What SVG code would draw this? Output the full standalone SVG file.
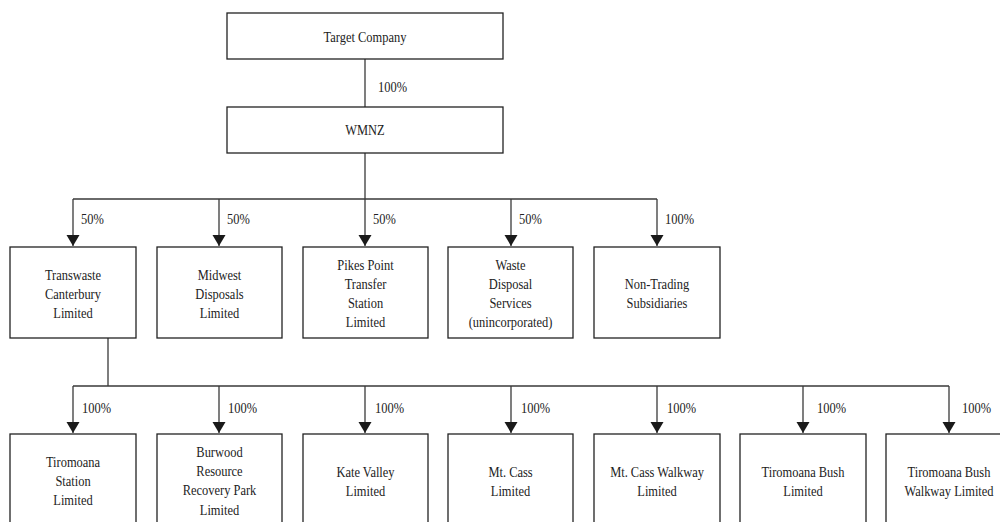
<svg xmlns="http://www.w3.org/2000/svg" width="1000" height="522" viewBox="0 0 1000 522">
<defs>
<marker id="arr" markerUnits="userSpaceOnUse" markerWidth="12" markerHeight="14" viewBox="0 0 12 14" refX="11" refY="7" orient="auto">
<path d="M0,0.5 L11,7 L0,13.5 Z" fill="#1a1a1a"/>
</marker>
</defs>
<style>
rect{fill:#fff;stroke:#222;stroke-width:1.3}
text{font-family:'Liberation Serif','Times New Roman',Times,serif;font-size:15px;fill:#222}
.c{text-anchor:middle}
.ln{fill:none;stroke:#3a3a3a;stroke-width:1.3}
</style>
<rect width="1000" height="522" style="fill:#fff;stroke:none"/>
<g id="connectors">
<path class="ln" d="M365,59 V107"/>
<path class="ln" d="M365,153 V199 M73,199 H657"/>
<path class="ln" d="M73,199 V246" marker-end="url(#arr)"/>
<path class="ln" d="M219,199 V246" marker-end="url(#arr)"/>
<path class="ln" d="M365,199 V246" marker-end="url(#arr)"/>
<path class="ln" d="M511,199 V246" marker-end="url(#arr)"/>
<path class="ln" d="M657,199 V246" marker-end="url(#arr)"/>
<path class="ln" d="M108,338 V386 M73,386 H949"/>
<path class="ln" d="M73,386 V433" marker-end="url(#arr)"/>
<path class="ln" d="M219,386 V433" marker-end="url(#arr)"/>
<path class="ln" d="M365,386 V433" marker-end="url(#arr)"/>
<path class="ln" d="M511,386 V433" marker-end="url(#arr)"/>
<path class="ln" d="M657,386 V433" marker-end="url(#arr)"/>
<path class="ln" d="M803,386 V433" marker-end="url(#arr)"/>
<path class="ln" d="M949,386 V433" marker-end="url(#arr)"/>
<text transform="translate(378,92) scale(0.83,1)">100%</text>
<text transform="translate(81,224) scale(0.83,1)">50%</text>
<text transform="translate(227,224) scale(0.83,1)">50%</text>
<text transform="translate(373,224) scale(0.83,1)">50%</text>
<text transform="translate(519,224) scale(0.83,1)">50%</text>
<text transform="translate(665,224) scale(0.83,1)">100%</text>
<text transform="translate(82,413) scale(0.83,1)">100%</text>
<text transform="translate(228,413) scale(0.83,1)">100%</text>
<text transform="translate(375,413) scale(0.83,1)">100%</text>
<text transform="translate(521,413) scale(0.83,1)">100%</text>
<text transform="translate(667,413) scale(0.83,1)">100%</text>
<text transform="translate(817,413) scale(0.83,1)">100%</text>
<text transform="translate(962,413) scale(0.83,1)">100%</text>
</g>
<g id="target"><rect x="227" y="13" width="276" height="46"/><text class="c" transform="translate(365,42) scale(0.83,1)">Target Company</text></g>
<g id="wmnz"><rect x="227" y="107" width="276" height="46"/><text class="c" transform="translate(365,135) scale(0.83,1)">WMNZ</text></g>
<g id="transwaste"><rect x="10" y="247" width="126" height="91"/><text class="c" transform="translate(73,280) scale(0.83,1)">Transwaste</text><text class="c" transform="translate(73,299) scale(0.83,1)">Canterbury</text><text class="c" transform="translate(73,318) scale(0.83,1)">Limited</text></g>
<g id="midwest"><rect x="157" y="247" width="125" height="91"/><text class="c" transform="translate(219.5,280) scale(0.83,1)">Midwest</text><text class="c" transform="translate(219.5,299) scale(0.83,1)">Disposals</text><text class="c" transform="translate(219.5,318) scale(0.83,1)">Limited</text></g>
<g id="pikes"><rect x="303" y="247" width="125" height="91"/><text class="c" transform="translate(365.5,270) scale(0.83,1)">Pikes Point</text><text class="c" transform="translate(365.5,289) scale(0.83,1)">Transfer</text><text class="c" transform="translate(365.5,308) scale(0.83,1)">Station</text><text class="c" transform="translate(365.5,327) scale(0.83,1)">Limited</text></g>
<g id="wds"><rect x="448" y="247" width="125" height="91"/><text class="c" transform="translate(510.5,270) scale(0.83,1)">Waste</text><text class="c" transform="translate(510.5,289) scale(0.83,1)">Disposal</text><text class="c" transform="translate(510.5,308) scale(0.83,1)">Services</text><text class="c" transform="translate(510.5,327) scale(0.83,1)">(unincorporated)</text></g>
<g id="nontrading"><rect x="594" y="247" width="126" height="91"/><text class="c" transform="translate(657,289) scale(0.83,1)">Non-Trading</text><text class="c" transform="translate(657,308) scale(0.83,1)">Subsidiaries</text></g>
<g id="tiromoana-station"><rect x="10" y="434" width="126" height="100"/><text class="c" transform="translate(73,467) scale(0.83,1)">Tiromoana</text><text class="c" transform="translate(73,486) scale(0.83,1)">Station</text><text class="c" transform="translate(73,505) scale(0.83,1)">Limited</text></g>
<g id="burwood"><rect x="157" y="434" width="125" height="100"/><text class="c" transform="translate(219.5,457) scale(0.83,1)">Burwood</text><text class="c" transform="translate(219.5,476) scale(0.83,1)">Resource</text><text class="c" transform="translate(219.5,495) scale(0.83,1)">Recovery Park</text><text class="c" transform="translate(219.5,515) scale(0.83,1)">Limited</text></g>
<g id="katevalley"><rect x="303" y="434" width="125" height="100"/><text class="c" transform="translate(365.5,477) scale(0.83,1)">Kate Valley</text><text class="c" transform="translate(365.5,496) scale(0.83,1)">Limited</text></g>
<g id="mtcass"><rect x="448" y="434" width="125" height="100"/><text class="c" transform="translate(510.5,477) scale(0.83,1)">Mt. Cass</text><text class="c" transform="translate(510.5,496) scale(0.83,1)">Limited</text></g>
<g id="mtcasswalkway"><rect x="594" y="434" width="126" height="100"/><text class="c" transform="translate(657,477) scale(0.83,1)">Mt. Cass Walkway</text><text class="c" transform="translate(657,496) scale(0.83,1)">Limited</text></g>
<g id="tiromoana-bush"><rect x="740" y="434" width="126" height="100"/><text class="c" transform="translate(803,477) scale(0.83,1)">Tiromoana Bush</text><text class="c" transform="translate(803,496) scale(0.83,1)">Limited</text></g>
<g id="tiromoana-bush-walkway"><rect x="886" y="434" width="126" height="100"/><text class="c" transform="translate(949,477) scale(0.83,1)">Tiromoana Bush</text><text class="c" transform="translate(949,496) scale(0.83,1)">Walkway Limited</text></g>
</svg>
